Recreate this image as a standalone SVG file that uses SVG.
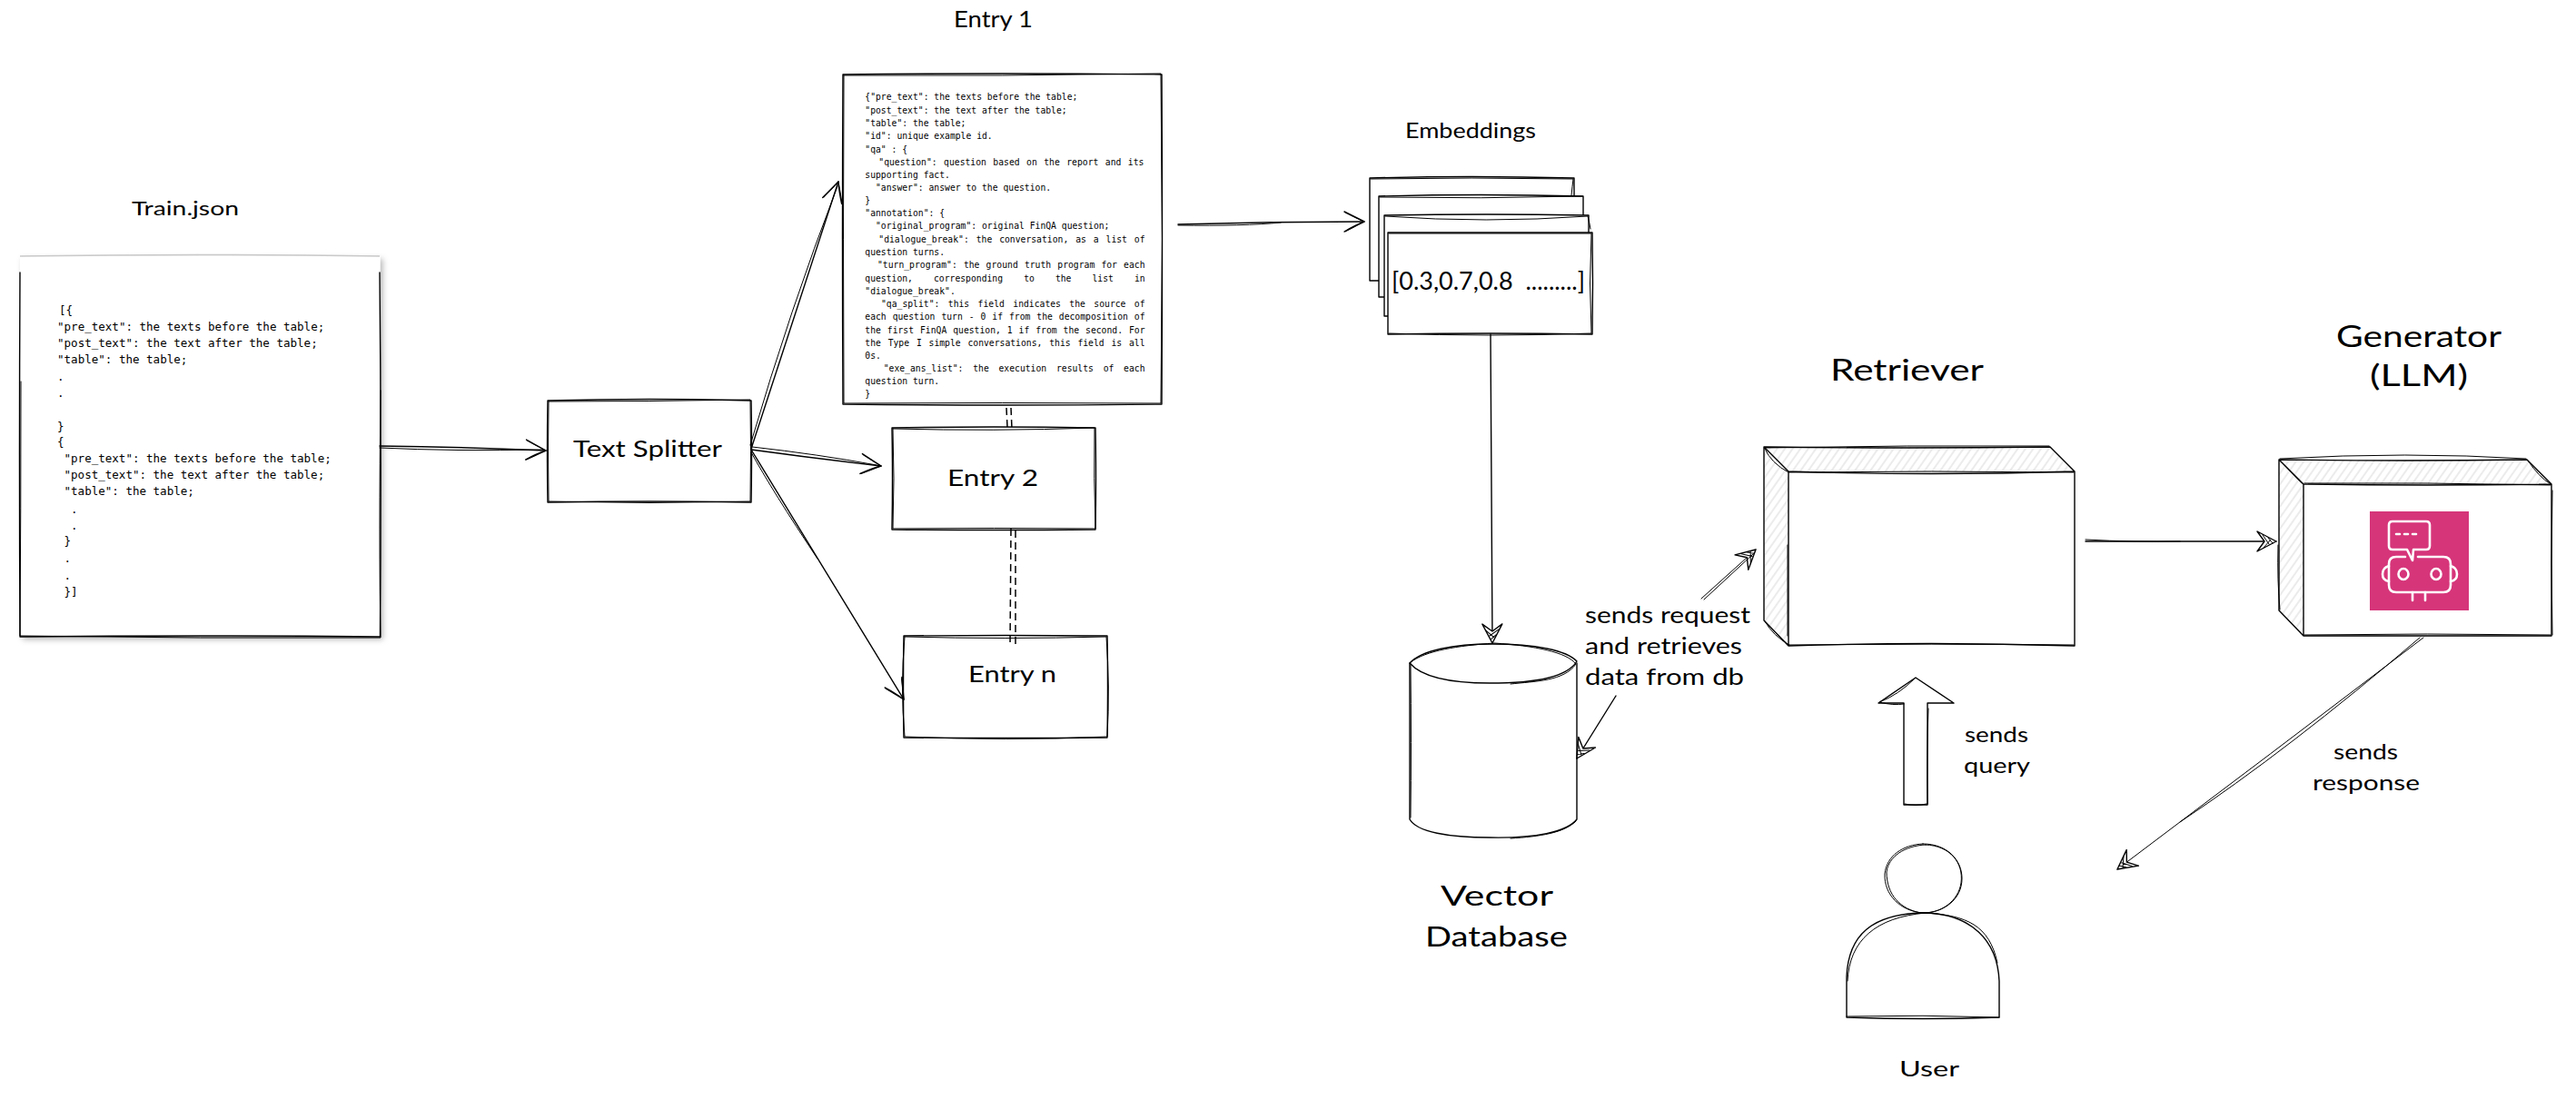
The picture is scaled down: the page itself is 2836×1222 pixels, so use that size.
<svg xmlns="http://www.w3.org/2000/svg" width="2836" height="1222" viewBox="0 0 2836 1222">
<style>
.ln{fill:none;stroke:#000;stroke-width:1.4;stroke-linecap:round;stroke-linejoin:round}
.th{fill:none;stroke:#000;stroke-width:1;stroke-linecap:round;stroke-linejoin:round}
.fw{fill:#fff;stroke:none}
.hc{fill:url(#hatch);stroke:none}
.h{font-family:"Lato","Noto Sans",sans-serif;fill:#000;white-space:pre}
.m1{font-family:"DejaVu Sans Mono","Liberation Mono",monospace;font-size:12.54px;fill:#000}
.m2{font-family:"DejaVu Sans Mono","Liberation Mono",monospace;font-size:9.73px;fill:#000}
.dash{fill:none;stroke:#000;stroke-width:1.5;stroke-dasharray:8 5}
.ic{fill:none;stroke:#fff;stroke-width:2.6;stroke-linejoin:round;stroke-linecap:round}
</style>
<defs>
<pattern id="hatch" width="7" height="7" patternUnits="userSpaceOnUse" patternTransform="rotate(35)"><line x1="3" y1="0" x2="3" y2="7" stroke="#d8d8d8" stroke-width="1"/></pattern>
<filter id="shadow" x="-5%" y="-5%" width="110%" height="110%"><feDropShadow dx="3" dy="3" stdDeviation="3" flood-color="#000" flood-opacity="0.28"/></filter>
<marker id="open" markerUnits="userSpaceOnUse" markerWidth="34" markerHeight="34" viewBox="-28 -17 34 34" refX="0" refY="0" orient="auto" overflow="visible"><path class="ln" d="M-22,-11 Q-10,-5 0,0 Q-10,4 -22,11"/><path class="th" d="M-21,-10 Q-9,-4 0,0 Q-11,6 -21,11"/></marker>
<marker id="tri" markerUnits="userSpaceOnUse" markerWidth="34" markerHeight="34" viewBox="-28 -17 34 34" refX="0" refY="0" orient="auto" overflow="visible"><path d="M-21,-11 L0,0 L-21,11 L-13,0 Z" fill="#fff" stroke="#000" stroke-width="1.4" stroke-linejoin="round"/><path class="th" d="M-15,-7 L-8,3 M-9,-4 L-4,2 M-14,7 L-6,-2" stroke="#555"/></marker>
</defs>

<g id="train">
<rect x="22" y="282" width="396.5" height="419" fill="#fff" filter="url(#shadow)"/>
<path d="M22,282 Q220,279 418,282" fill="none" stroke="#c9c9c9" stroke-width="1.6"/>
<path class="ln" d="M22,300 Q21,500 22,701 Q220,699 418.5,701 Q420,500 418,300"/>
<path class="th" d="M23,420 Q23,560 22,700 Q220,703 419,702 Q417,600 419,430"/>
<text class="m1"><tspan x="65" y="346">[{</tspan><tspan x="63" y="364">"pre_text": the texts before the table;</tspan><tspan x="63" y="382">"post_text": the text after the table;</tspan><tspan x="63" y="400">"table": the table;</tspan><tspan x="63" y="419">.</tspan><tspan x="63" y="437">.</tspan><tspan x="63" y="474">}</tspan><tspan x="63" y="491">{</tspan><tspan x="70.5" y="509">"pre_text": the texts before the table;</tspan><tspan x="70.5" y="527">"post_text": the text after the table;</tspan><tspan x="70.5" y="545">"table": the table;</tspan><tspan x="78" y="565">.</tspan><tspan x="78" y="583">.</tspan><tspan x="70.5" y="600">}</tspan><tspan x="70.5" y="619">.</tspan><tspan x="70.5" y="638">.</tspan><tspan x="70.5" y="656">}]</tspan></text>
<text class="h" x="145" y="237" font-size="22" textLength="118" lengthAdjust="spacingAndGlyphs">Train.json</text>
</g>

<g id="splitter">
<rect class="fw" x="603" y="441" width="224" height="112"/>
<path class="ln" d="M603,441 Q715,438 827,441 Q828,497 827,553 Q715,551 603,553 Q602,497 603,441 Z"/>
<path class="th" d="M604,442 Q715,442 826,440 Q827,497 826,552 Q715,555 604,552 Q603,497 604,442 Z"/>
<text class="h" x="631" y="503" font-size="25" textLength="164" lengthAdjust="spacingAndGlyphs">Text Splitter</text>
</g>

<g id="entry1">
<rect class="fw" x="928" y="82" width="351" height="363"/>
<path class="ln" d="M928,82 Q1103,80 1279,82 Q1280,263 1279,445 Q1103,447 928,445 Q927,263 928,82 Z"/>
<path class="th" d="M929,83 Q1103,84 1278,81 Q1281,263 1278,444 Q1103,443 929,444 Q928,263 929,83 Z"/>
<text class="m2">
<tspan x="952.3" y="110">{"pre_text": the texts before the table;</tspan>
<tspan x="952.3" y="125">"post_text": the text after the table;</tspan>
<tspan x="952.3" y="139">"table": the table;</tspan>
<tspan x="952.3" y="153">"id": unique example id.</tspan>
<tspan x="952.3" y="167.7">"qa" : {</tspan>
<tspan x="967.3" y="182" word-spacing="1.6">"question": question based on the report and its</tspan>
<tspan x="952.3" y="196">supporting fact.</tspan>
<tspan x="964" y="210">"answer": answer to the question.</tspan>
<tspan x="952.3" y="224">}</tspan>
<tspan x="952.3" y="238">"annotation": {</tspan>
<tspan x="964" y="252">"original_program": original FinQA question;</tspan>
<tspan x="967.3" y="267" word-spacing="2.07">"dialogue_break": the conversation, as a list of</tspan>
<tspan x="952.3" y="281">question turns.</tspan>
<tspan x="966" y="295" word-spacing="1.3">"turn_program": the ground truth program for each</tspan>
<tspan x="952.3" y="310" word-spacing="17.2">question, corresponding to the list in</tspan>
<tspan x="952.3" y="324">"dialogue_break".</tspan>
<tspan x="970" y="338" word-spacing="3.57">"qa_split": this field indicates the source of</tspan>
<tspan x="952.3" y="352" word-spacing="1.09">each question turn - 0 if from the decomposition of</tspan>
<tspan x="952.3" y="367" word-spacing="1.09">the first FinQA question, 1 if from the second. For</tspan>
<tspan x="952.3" y="381" word-spacing="1.96">the Type I simple conversations, this field is all</tspan>
<tspan x="952.3" y="395">0s.</tspan>
<tspan x="972.7" y="409" word-spacing="4.9">"exe_ans_list": the execution results of each</tspan>
<tspan x="952.3" y="423">question turn.</tspan>
<tspan x="952.3" y="437">}</tspan>
</text>
<text class="h" x="1050" y="30" font-size="25" textLength="87" lengthAdjust="spacingAndGlyphs">Entry 1</text>
</g>

<g id="entry2">
<rect class="fw" x="982" y="471" width="224" height="112"/>
<path class="ln" d="M982,471 Q1094,469 1206,471 Q1207,527 1206,583 Q1094,584 982,583 Q983,527 982,471 Z"/>
<path class="th" d="M983,472 Q1094,475 1205,471 Q1204,527 1206,582 Q1094,581 983,582 Q985,527 983,472 Z"/>
<text class="h" x="1043" y="535" font-size="25" textLength="100" lengthAdjust="spacingAndGlyphs">Entry 2</text>
</g>

<g id="entryn">
<rect class="fw" x="995" y="700" width="224" height="112"/>
<path class="ln" d="M995,700 Q1107,699 1219,700 Q1220,756 1219,812 Q1107,813 995,812 Q994,756 995,700 Z"/>
<path class="th" d="M996,701 Q1107,704 1218,701 Q1222,756 1219,811 Q1107,816 996,811 Q991,756 996,701 Z"/>
<text class="h" x="1066" y="751" font-size="25" textLength="97" lengthAdjust="spacingAndGlyphs">Entry n</text>
</g>

<g id="embeddings">
<text class="h" x="1547" y="152" font-size="24" textLength="144" lengthAdjust="spacingAndGlyphs">Embeddings</text>
<rect class="fw" x="1508" y="196" width="225" height="113"/>
<path class="ln" d="M1508,196 Q1620,193 1733,196 L1733,309 L1508,309 Z"/>
<path class="th" d="M1509,197 Q1620,195 1732,197 Q1731,205 1730,215"/>
<rect class="fw" x="1512" y="238" width="8" height="25" stroke="#000" stroke-width="1.4"/>
<rect class="fw" x="1518" y="216" width="225" height="111"/>
<path class="ln" d="M1518,216 Q1630,213 1743,216 L1743,327 L1518,327 Z"/>
<path class="th" d="M1519,217 Q1630,219 1742,216"/>
<rect class="fw" x="1524" y="237" width="225" height="111"/>
<path class="ln" d="M1524,237 Q1636,235 1749,237 L1749,348 L1524,348 Z"/>
<path class="th" d="M1525,238 Q1636,246 1748,238 Q1750,245 1751,252"/>
<rect class="fw" x="1528" y="256" width="225" height="112"/>
<path class="ln" d="M1528,256 L1753,256 Q1754,312 1753,368 Q1640,366 1528,368 Z"/>
<path class="th" d="M1529,257 L1752,257 Q1749,312 1752,367 Q1640,371 1529,367"/>
<text class="h" x="1532" y="319" font-size="27" textLength="213" lengthAdjust="spacingAndGlyphs">[0.3,0.7,0.8  .........]</text>
</g>

<g id="database">
<path class="fw" d="M1552,730 C1560,700 1728,700 1736,730 L1736,902 C1728,932 1560,932 1552,902 Z"/>
<path class="ln" d="M1552,730 C1565,716 1600,709 1643,709 C1690,709 1725,716 1736,728 C1725,746 1690,752 1640,752 C1595,752 1565,745 1552,730 Z"/>
<path class="th" d="M1553,729 C1570,716 1605,711 1645,708 C1690,711 1725,718 1735,731 C1722,750 1690,750 1663,753"/>
<path class="ln" d="M1552,730 L1552,902 C1560,916 1595,922 1640,922 C1690,923 1725,916 1736,902 L1736,730"/>
<path class="th" d="M1553,731 Q1554,820 1553,900 M1663,923 C1695,921 1722,917 1735,904"/>
<text class="h" x="1586" y="997" font-size="31" textLength="124" lengthAdjust="spacingAndGlyphs">Vector</text>
<text class="h" x="1569" y="1042" font-size="31" textLength="157" lengthAdjust="spacingAndGlyphs">Database</text>
</g>

<g id="retriever">
<path class="fw" d="M1942,492 L2257,492 L2284,519 L2284,711 L1969,711 L1942,683 Z"/>
<path class="hc" d="M1942,492 L2257,492 L2284,519 L1969,519 Z"/>
<path class="hc" d="M1942,492 L1969,519 L1969,711 L1942,683 Z"/>
<path class="ln" d="M1942,492 Q2100,494 2257,492 L2284,519 Q2126,524 1969,519 Z M1942,492 L1942,683 L1969,711 Q2126,706 2284,711 L2284,519 M1969,519 L1969,711"/>
<path class="th" d="M1943,493 Q2100,490 2256,491 M1970,520 Q2126,518 2283,520 M1970,710 Q2126,708 2283,710 M1943,494 Q1950,510 1969,520 M1943,684 Q1952,700 1970,710 M1968,600 L1968,700"/>
<text class="h" x="2015" y="419" font-size="32" textLength="169" lengthAdjust="spacingAndGlyphs">Retriever</text>
</g>

<g id="generator">
<path class="fw" d="M2509,506 L2782,506 L2809,533 L2809,700 L2536,700 L2509,672 Z"/>
<path class="hc" d="M2509,506 L2782,506 L2809,533 L2536,533 Z"/>
<path class="hc" d="M2509,506 L2536,533 L2536,700 L2509,672 Z"/>
<path class="ln" d="M2509,506 Q2650,508 2782,506 L2809,533 Q2672,535 2536,533 Z M2509,506 L2509,672 L2536,700 L2809,700 L2809,533 M2536,533 L2536,700"/>
<path class="th" d="M2510,505 Q2650,497 2781,505 M2510,507 L2534,532 M2783,507 Q2795,525 2808,533 M2537,532 Q2672,531 2808,534 M2537,699 Q2672,697 2808,699 M2508,600 Q2507,640 2510,671 M2810,540 Q2808,620 2810,699"/>
<rect x="2609" y="563" width="109" height="109" fill="#D6357A"/>
<path class="ic" d="M2634,574 L2671,574 Q2675,574 2675,578 L2675,601 Q2675,605 2671,605 L2657,605 L2656,617 L2650,605 L2634,605 Q2630,605 2630,601 L2630,578 Q2630,574 2634,574 Z"/>
<path class="ic" d="M2638,588 L2642,588 M2647,588 L2651,588 M2656,588 L2660,588"/>
<path class="ic" d="M2648,613 L2638,613 Q2630,613 2630,621 L2630,644 Q2630,652 2638,652 L2690,652 Q2698,652 2698,644 L2698,621 Q2698,613 2690,613 L2662,613"/>
<ellipse class="ic" cx="2646" cy="632" rx="5.5" ry="6"/>
<ellipse class="ic" cx="2682" cy="632" rx="5.5" ry="6"/>
<path class="ic" d="M2630,623 Q2623,625 2623,632 Q2623,639 2630,640 M2698,623 Q2705,625 2705,632 Q2705,639 2698,640"/>
<path class="ic" d="M2656,652 L2656,661 M2670,652 L2670,661"/>
<text class="h" x="2572" y="382" font-size="33" textLength="182" lengthAdjust="spacingAndGlyphs">Generator</text>
<text class="h" x="2609" y="425" font-size="33" textLength="108" lengthAdjust="spacingAndGlyphs">(LLM)</text>
</g>

<g id="user">
<ellipse class="fw" cx="2117" cy="967" rx="43" ry="38"/>
<path class="th" d="M2117,929 C2145,929 2160,948 2160,967 C2160,990 2140,1005 2117,1005 C2092,1003 2074,985 2075,962 C2077,942 2095,930 2117,929 Z"/>
<path class="th" d="M2120,930 C2147,931 2162,950 2159,972 C2156,992 2137,1006 2115,1005 C2092,1001 2077,985 2077,960 C2079,943 2097,931 2120,930 Z"/>
<path class="fw" d="M2033,1120 L2033,1070 C2035,1030 2065,1005 2117,1005 C2170,1005 2200,1030 2201,1075 L2201,1120 Z"/>
<path class="ln" d="M2033,1120 L2033,1075 C2035,1030 2060,1006 2118,1005 C2170,1006 2199,1035 2201,1080 L2201,1120 Q2117,1123 2033,1120 Z"/>
<path class="th" d="M2034,1080 C2036,1035 2065,1010 2120,1005 C2165,1008 2190,1018 2199,1060 M2033,1119 Q2117,1117 2201,1120"/>
<text class="h" x="2091" y="1185" font-size="23" textLength="66" lengthAdjust="spacingAndGlyphs">User</text>
</g>

<g id="connectors">
<path class="ln" d="M418,491 Q510,492 601,496" marker-end="url(#open)"/>
<path class="th" d="M418,493 Q500,497 598,495"/>
<path class="ln" d="M827,494 L923,200" marker-end="url(#open)"/>
<path class="th" d="M826,490 Q870,340 922,205"/>
<path class="ln" d="M827,495 Q900,505 970,513" marker-end="url(#open)"/>
<path class="th" d="M828,492 Q900,500 965,512"/>
<path class="ln" d="M827,495 L995,770" marker-end="url(#open)"/>
<path class="th" d="M827,498 Q850,540 900,615"/>
<path class="ln" d="M1297,247 Q1400,244 1502,244" marker-end="url(#open)"/>
<path class="th" d="M1297,248 Q1370,249 1410,245"/>
<path class="dash" d="M1108,449 L1109,470"/>
<path class="dash" d="M1113,449 L1114,472"/>
<path class="dash" d="M1113,582 L1112,712"/>
<path class="dash" d="M1118,584 L1118,712"/>
<path class="ln" d="M1641,368 L1643,708" marker-end="url(#tri)"/>
<path class="ln" d="M1779,766 L1736,835" marker-end="url(#tri)"/>
<path class="th" d="M1873,659 L1933,605" marker-end="url(#tri)"/>
<path class="th" d="M1876,660 L1930,610"/>
<path class="ln" d="M2296,596 L2506,596" marker-end="url(#tri)"/>
<path class="th" d="M2296,594 Q2350,597 2400,596"/>
<path class="th" d="M2668,702 Q2500,830 2331,957" marker-end="url(#tri)"/>
<path class="th" d="M2664,702 Q2520,825 2400,905"/>
<path class="fw" d="M2109,746 L2151,774 L2122,774 L2122,886 L2096,886 L2096,774 L2068,774 Z"/>
<path class="ln" d="M2109,746 L2151,774 L2122,774 L2122,886 L2096,886 L2096,774 L2068,774 Z"/>
<path class="th" d="M2108,747 Q2090,765 2069,773 Q2085,777 2096,775 M2123,780 Q2121,830 2122,885 M2097,885 Q2109,888 2121,885"/>
<text class="h" x="1745" y="686" font-size="25" textLength="182" lengthAdjust="spacingAndGlyphs">sends request</text>
<text class="h" x="1745" y="720" font-size="25" textLength="173" lengthAdjust="spacingAndGlyphs">and retrieves</text>
<text class="h" x="1745" y="754" font-size="25" textLength="175" lengthAdjust="spacingAndGlyphs">data from db</text>
<text class="h" x="2163" y="817" font-size="24" textLength="70" lengthAdjust="spacingAndGlyphs">sends</text>
<text class="h" x="2162" y="851" font-size="24" textLength="73" lengthAdjust="spacingAndGlyphs">query</text>
<text class="h" x="2569" y="836" font-size="24" textLength="71" lengthAdjust="spacingAndGlyphs">sends</text>
<text class="h" x="2546" y="870" font-size="24" textLength="118" lengthAdjust="spacingAndGlyphs">response</text>
</g>
</svg>
